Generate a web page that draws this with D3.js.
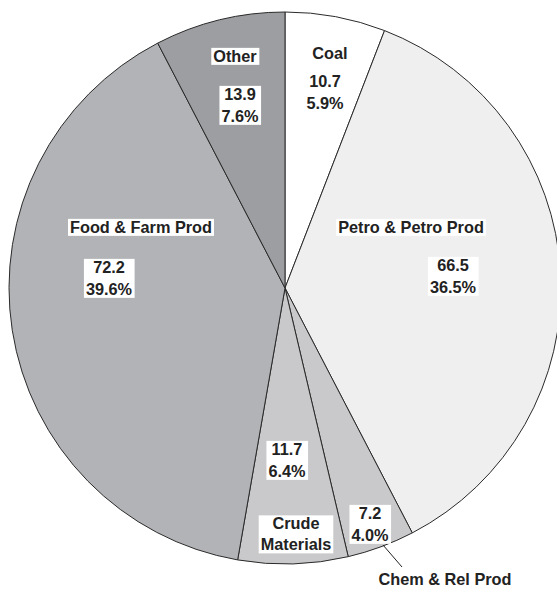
<!DOCTYPE html>
<html>
<head>
<meta charset="utf-8">
<script src="https://cdn.jsdelivr.net/npm/d3@7"></script>
<style>
  html, body { margin: 0; padding: 0; background: #fff; }
  svg text { font-family: "Liberation Sans", Arial, sans-serif; font-weight: bold; fill: #222; }
</style>
</head>
<body>
<div id="chart"></div>
<script>
// data, clockwise from 12 o'clock
var categories = ["Coal", "Petro & Petro Prod", "Chem & Rel Prod", "Crude Materials", "Food & Farm Prod", "Other"];
var values = [10.7, 66.5, 7.2, 11.7, 72.2, 13.9];
var nameLines = [["Coal"], ["Petro & Petro Prod"], ["Chem & Rel Prod"], ["Crude", "Materials"], ["Food & Farm Prod"], ["Other"]];
var sliceColors = ["#ffffff", "#efefef", "#c9c9cb", "#c9c9cb", "#b2b3b6", "#9d9ea1"];

// label placement (offsets from pie centre), kept apart from the data
var namePos  = [[45, -235], [126, -61], [160, 291], [11, 246], [-144, -61], [-50, -232]];
var valuePos = [[40, -196], [168, -12], [85, 236], [2, 172], [-176, -10], [-45, -183]];
var nameBoxed = [false, true, false, true, true, true];

var width = 557, height = 590;
var cx = 285, cy = 288, radius = 276;

var svg = d3.select("#chart")
  .append("svg")
  .attr("width", width)
  .attr("height", height);

var g = svg.append("g").attr("transform", "translate(" + cx + "," + cy + ")");

var total = d3.sum(values);
var pie = d3.pie().sort(null).value(function(d){ return d; });
var arc = d3.arc().innerRadius(0).outerRadius(radius);
var arcs = pie(values);

g.selectAll("path.slice")
  .data(arcs)
  .enter()
  .append("path")
    .attr("class", "slice")
    .attr("d", arc)
    .attr("fill", function(d, i){ return sliceColors[i]; })
    .attr("stroke", "#2a2a2a")
    .attr("stroke-width", 1);

// leader line for the small Chem slice
var chemArc = arcs[2];
var mid = (chemArc.startAngle + chemArc.endAngle) / 2;
g.append("line")
  .attr("x1", valuePos[2][0] + 13)
  .attr("y1", valuePos[2][1] + 21)
  .attr("x2", namePos[2][0] - 43)
  .attr("y2", namePos[2][1] - 12)
  .attr("stroke", "#222")
  .attr("stroke-width", 1);

var fontSize = 16.3, lineH = 22;

function addLabel(lines, pos, boxed, spacing) {
  var lg = g.append("g");
  var rect = lg.append("rect").attr("fill", "#fff");
  var n = lines.length;
  var t = lg.append("text")
    .attr("text-anchor", "middle")
    .style("font-size", fontSize + "px");
  lines.forEach(function(s, k){
    t.append("tspan")
      .attr("x", pos[0])
      .attr("y", pos[1] + (k - (n - 1) / 2) * spacing)
      .attr("dy", "0.36em")
      .text(s);
  });
  var bb = t.node().getBBox();
  if (boxed) {
    rect.attr("x", bb.x - 2).attr("y", bb.y + 1)
      .attr("width", bb.width + 4).attr("height", bb.height - 1);
  } else {
    rect.remove();
  }
}

arcs.forEach(function(d, i){
  addLabel(nameLines[i], namePos[i], nameBoxed[i], 21);
  var pct = (values[i] / total * 100).toFixed(1) + "%";
  addLabel([values[i].toFixed(1), pct], valuePos[i], i !== 0, lineH);
});
</script>
</body>
</html>
